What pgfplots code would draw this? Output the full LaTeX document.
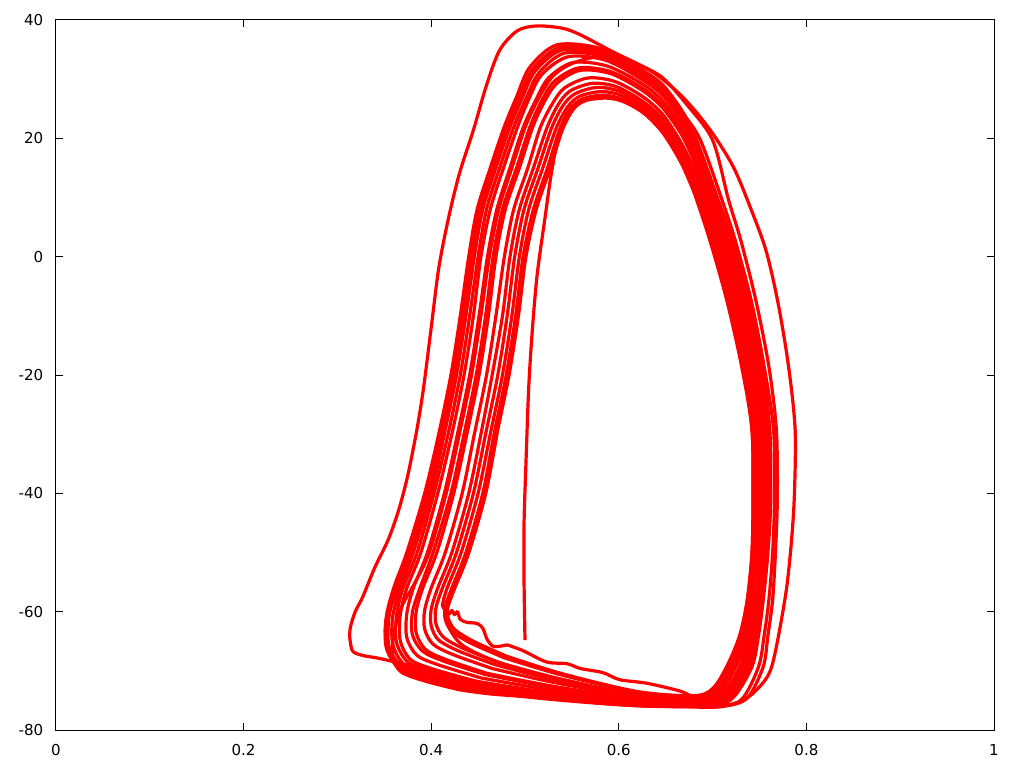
\documentclass[border=0pt]{standalone}
\usepackage{fontspec}
\setmainfont{DejaVu Sans}
\usepackage{pgfplots}
\pgfplotsset{compat=1.18}
\pgfplotsset{traj/.style={color=red, line width=2.4pt, smooth, line join=round, mark=none}}
\begin{document}
\begin{tikzpicture}
\begin{axis}[
  scale only axis, width=703.5pt, height=532.5pt,
  xmin=0, xmax=1, ymin=-80, ymax=40,
  xtick={0,0.2,0.4,0.6,0.8,1}, ytick={-80,-60,-40,-20,0,20,40},
  tick align=inside, major tick length=5.25pt,
  axis line style={line width=0.75pt, black},
  every tick/.style={line width=0.75pt, black},
  /pgf/number format/assume math mode=true,
  tick label style={font=\fontsize{11.3}{13}\selectfont},
  xticklabel style={yshift=-7.5pt},
  yticklabel style={xshift=-6pt},
  clip=true,
]
% start segment
\addplot[traj] coordinates {(0.500,-64.8) (0.499,-55) (0.499,-45) (0.501,-35) (0.504,-22) (0.508,-12) (0.513,-3) (0.521,6.2) (0.528,14) (0.536,20.5) (0.546,24.5) (0.562,26.6) (0.585,27.1) (0.605,26.4) (0.627,24.4) (0.647,21.1) (0.665,16.5) (0.676,12.7) (0.684,9.6) (0.698,2.8) (0.716,-7.3) (0.732,-18.6) (0.742,-29.3) (0.743,-41) (0.742,-50) (0.737,-58) (0.729,-64) (0.716,-69.3) (0.700,-73.3) (0.680,-74.4) (0.620,-74.0) (0.545,-71.8) (0.490,-69.5) (0.455,-67.5) (0.432,-65.5) (0.420,-63) (0.417,-60.5) (0.418,-59) (0.425,-56) (0.440,-50) (0.458,-40) (0.470,-30)};
% f=0.00
\addplot[traj] coordinates {(0.440,-73) (0.390,-71) (0.365,-69.5) (0.352,-66) (0.352,-61) (0.360,-56) (0.374,-50) (0.393,-40) (0.408,-30) (0.421,-20) (0.431,-10) (0.440,0) (0.449,8) (0.463,15) (0.478,22) (0.491,27) (0.505,32) (0.534,35.8) (0.580,35.2) (0.625,31.5) (0.647,29.0) (0.668,24.5) (0.683,19.7) (0.706,9.6) (0.721,2.8) (0.738,-7.3) (0.753,-18.6) (0.761,-29.3) (0.762,-41) (0.759,-50) (0.754,-58) (0.749,-64) (0.742,-69.3) (0.722,-74.5) (0.700,-75.7) (0.620,-75.8) (0.520,-74.5) (0.440,-73)};
% f=0.05
\addplot[traj] coordinates {(0.442,-72.7) (0.393,-70.7) (0.368,-69.2) (0.355,-65.8) (0.355,-60.9) (0.363,-56) (0.377,-50) (0.396,-40) (0.411,-30) (0.424,-20) (0.434,-10) (0.443,0) (0.452,8) (0.466,15) (0.481,22.0) (0.494,26.9) (0.508,31.7) (0.537,35.4) (0.581,34.8) (0.625,31.1) (0.647,28.6) (0.668,24.1) (0.683,19.3) (0.705,9.6) (0.720,2.8) (0.737,-7.3) (0.752,-18.6) (0.760,-29.3) (0.761,-41) (0.758,-50) (0.753,-58) (0.748,-64) (0.741,-69.3) (0.721,-74.4) (0.699,-75.6) (0.620,-75.7) (0.521,-74.3) (0.442,-72.7)};
% f=0.10
\addplot[traj] coordinates {(0.444,-72.5) (0.396,-70.4) (0.371,-68.9) (0.359,-65.5) (0.359,-60.8) (0.367,-56) (0.381,-50) (0.400,-40) (0.414,-30) (0.427,-20) (0.437,-10) (0.446,0) (0.455,8) (0.469,15) (0.484,21.9) (0.497,26.8) (0.511,31.4) (0.539,34.9) (0.583,34.3) (0.625,30.8) (0.647,28.2) (0.668,23.7) (0.682,19.0) (0.704,9.6) (0.719,2.8) (0.736,-7.3) (0.751,-18.6) (0.759,-29.3) (0.760,-41) (0.757,-50) (0.752,-58) (0.747,-64) (0.739,-69.3) (0.720,-74.4) (0.698,-75.6) (0.620,-75.6) (0.522,-74.1) (0.444,-72.5)};
% f=0.16
\addplot[traj] coordinates {(0.446,-72.1) (0.399,-70.0) (0.375,-68.5) (0.363,-65.2) (0.363,-60.7) (0.370,-56) (0.385,-50) (0.403,-40) (0.418,-30) (0.431,-20) (0.441,-10) (0.450,0) (0.459,8) (0.473,15) (0.488,21.9) (0.501,26.7) (0.515,31.1) (0.542,34.4) (0.584,33.8) (0.625,30.3) (0.647,27.7) (0.668,23.2) (0.682,18.5) (0.702,9.6) (0.717,2.8) (0.734,-7.3) (0.749,-18.6) (0.758,-29.3) (0.759,-41) (0.756,-50) (0.751,-58) (0.746,-64) (0.738,-69.3) (0.718,-74.3) (0.697,-75.5) (0.620,-75.4) (0.523,-73.9) (0.446,-72.1)};
% f=0.22
\addplot[traj] coordinates {(0.449,-71.8) (0.402,-69.7) (0.378,-68.1) (0.367,-64.9) (0.367,-60.6) (0.374,-56) (0.389,-50) (0.407,-40) (0.422,-30) (0.435,-20) (0.445,-10) (0.453,0) (0.463,8) (0.477,15) (0.492,21.9) (0.504,26.6) (0.518,30.8) (0.546,33.8) (0.586,33.2) (0.625,29.9) (0.647,27.2) (0.667,22.7) (0.681,18.1) (0.701,9.6) (0.716,2.8) (0.733,-7.3) (0.748,-18.6) (0.757,-29.3) (0.758,-41) (0.755,-50) (0.750,-58) (0.745,-64) (0.736,-69.3) (0.717,-74.2) (0.696,-75.4) (0.620,-75.3) (0.524,-73.6) (0.449,-71.8)};
% f=0.33
\addplot[traj] coordinates {(0.453,-71.2) (0.408,-69.0) (0.385,-67.4) (0.374,-64.4) (0.374,-60.3) (0.381,-56) (0.396,-50) (0.414,-40) (0.428,-30) (0.441,-20) (0.451,-10) (0.460,0) (0.470,8) (0.484,15) (0.498,21.8) (0.511,26.3) (0.525,30.2) (0.551,32.8) (0.588,32.2) (0.626,29.1) (0.647,26.3) (0.667,21.8) (0.681,17.3) (0.698,9.6) (0.713,2.8) (0.730,-7.3) (0.746,-18.6) (0.755,-29.3) (0.756,-41) (0.753,-50) (0.748,-58) (0.742,-64) (0.733,-69.3) (0.715,-74.0) (0.693,-75.2) (0.620,-75.0) (0.527,-73.2) (0.453,-71.2)};
% f=0.43
\addplot[traj] coordinates {(0.457,-70.6) (0.414,-68.4) (0.391,-66.7) (0.380,-63.9) (0.380,-60.1) (0.388,-56) (0.402,-50) (0.421,-40) (0.435,-30) (0.448,-20) (0.458,-10) (0.466,0) (0.476,8) (0.491,15) (0.505,21.8) (0.517,26.1) (0.531,29.6) (0.557,31.9) (0.591,31.3) (0.626,28.4) (0.647,25.5) (0.667,21.0) (0.680,16.6) (0.696,9.6) (0.711,2.8) (0.728,-7.3) (0.744,-18.6) (0.753,-29.3) (0.753,-41) (0.752,-50) (0.747,-58) (0.740,-64) (0.730,-69.3) (0.713,-73.9) (0.691,-75.1) (0.620,-74.8) (0.529,-72.8) (0.457,-70.6)};
% f=0.48
\addplot[traj] coordinates {(0.459,-70.4) (0.416,-68.1) (0.394,-66.4) (0.384,-63.6) (0.384,-60.0) (0.391,-56) (0.406,-50) (0.424,-40) (0.438,-30) (0.451,-20) (0.461,-10) (0.469,0) (0.479,8) (0.494,15) (0.508,21.8) (0.520,26.0) (0.534,29.3) (0.559,31.5) (0.592,30.9) (0.626,28.0) (0.647,25.1) (0.667,20.6) (0.680,16.2) (0.695,9.6) (0.709,2.8) (0.727,-7.3) (0.742,-18.6) (0.752,-29.3) (0.752,-41) (0.751,-50) (0.746,-58) (0.739,-64) (0.729,-69.3) (0.711,-73.8) (0.690,-75.0) (0.620,-74.7) (0.530,-72.6) (0.459,-70.4)};
% f=0.62
\addplot[traj] coordinates {(0.465,-69.6) (0.424,-67.3) (0.402,-65.5) (0.393,-62.9) (0.393,-59.8) (0.400,-56) (0.415,-50) (0.433,-40) (0.446,-30) (0.459,-20) (0.469,-10) (0.478,0) (0.488,8) (0.503,15) (0.516,21.7) (0.529,25.8) (0.542,28.5) (0.567,30.2) (0.596,29.6) (0.626,27.0) (0.647,24.0) (0.666,19.4) (0.679,15.2) (0.692,9.6) (0.706,2.8) (0.724,-7.3) (0.739,-18.6) (0.749,-29.3) (0.750,-41) (0.748,-50) (0.743,-58) (0.737,-64) (0.725,-69.3) (0.708,-73.6) (0.688,-74.8) (0.620,-74.4) (0.532,-72.0) (0.465,-69.6)};
% f=0.72
\addplot[traj] coordinates {(0.469,-69.0) (0.430,-66.7) (0.408,-64.8) (0.400,-62.4) (0.400,-59.6) (0.407,-56) (0.422,-50) (0.440,-40) (0.453,-30) (0.465,-20) (0.476,-10) (0.484,0) (0.494,8) (0.509,15) (0.523,21.6) (0.535,25.6) (0.548,28.0) (0.572,29.3) (0.598,28.7) (0.626,26.2) (0.647,23.2) (0.666,18.6) (0.678,14.5) (0.689,9.6) (0.704,2.8) (0.721,-7.3) (0.737,-18.6) (0.747,-29.3) (0.748,-41) (0.747,-50) (0.742,-58) (0.735,-64) (0.723,-69.3) (0.706,-73.4) (0.686,-74.6) (0.620,-74.1) (0.534,-71.6) (0.469,-69.0)};
% f=0.80
\addplot[traj] coordinates {(0.472,-68.6) (0.434,-66.2) (0.413,-64.3) (0.405,-62.0) (0.405,-59.4) (0.412,-56) (0.427,-50) (0.445,-40) (0.458,-30) (0.471,-20) (0.481,-10) (0.489,0) (0.499,8) (0.514,15) (0.528,21.6) (0.540,25.4) (0.553,27.5) (0.576,28.6) (0.600,28.0) (0.627,25.7) (0.647,22.5) (0.666,17.9) (0.677,13.9) (0.688,9.6) (0.702,2.8) (0.720,-7.3) (0.735,-18.6) (0.746,-29.3) (0.747,-41) (0.745,-50) (0.740,-58) (0.733,-64) (0.720,-69.3) (0.704,-73.3) (0.684,-74.5) (0.620,-74.0) (0.536,-71.3) (0.472,-68.6)};
% f=0.88 with wiggles
\addplot[traj] coordinates {(0.481,-65.6) (0.467,-65.9) (0.460,-64.8) (0.455,-62.8) (0.449,-62.0) (0.438,-61.8) (0.431,-61.3) (0.428,-60.0) (0.425,-60.5) (0.422,-59.8) (0.419,-60.4) (0.416,-59.7) (0.412,-59.0) (0.417,-56) (0.432,-50) (0.450,-40) (0.463,-30) (0.476,-20) (0.486,-10) (0.494,0) (0.504,8) (0.519,15) (0.533,21.6) (0.545,25.2) (0.558,27.1) (0.581,27.9) (0.602,27.3) (0.627,25.1) (0.647,21.9) (0.665,17.3) (0.677,13.4) (0.686,9.6) (0.700,2.8) (0.718,-7.3) (0.734,-18.6) (0.744,-29.3) (0.745,-41) (0.744,-50) (0.739,-58) (0.731,-64) (0.718,-69.3) (0.703,-73.2) (0.682,-74.4) (0.665,-73.4) (0.630,-72.1) (0.601,-71.5) (0.583,-70.3) (0.559,-69.6) (0.545,-68.8) (0.523,-68.5) (0.498,-66.6) (0.481,-65.6)};
% f=0.95
\addplot[traj] coordinates {(0.478,-67.8) (0.442,-65.3) (0.422,-63.3) (0.415,-61.3) (0.415,-59.1) (0.422,-56) (0.437,-50) (0.455,-40) (0.467,-30) (0.480,-20) (0.490,-10) (0.498,0) (0.509,8) (0.524,15) (0.537,21.5) (0.549,25.1) (0.562,26.7) (0.584,27.3) (0.604,26.6) (0.627,24.6) (0.647,21.3) (0.665,16.7) (0.676,12.9) (0.684,9.6) (0.698,2.8) (0.716,-7.3) (0.732,-18.6) (0.743,-29.3) (0.744,-41) (0.743,-50) (0.738,-58) (0.730,-64) (0.716,-69.3) (0.701,-73.1) (0.681,-74.3) (0.620,-73.6) (0.539,-70.7) (0.478,-67.8)};
% f=1.00
\addplot[traj] coordinates {(0.480,-67.5) (0.445,-65) (0.425,-63) (0.418,-61) (0.418,-59) (0.425,-56) (0.440,-50) (0.458,-40) (0.470,-30) (0.483,-20) (0.493,-10) (0.501,0) (0.512,8) (0.527,15) (0.540,21.5) (0.552,25) (0.565,26.4) (0.587,26.8) (0.605,26.2) (0.627,24.2) (0.647,20.9) (0.665,16.3) (0.676,12.5) (0.683,9.6) (0.697,2.8) (0.715,-7.3) (0.731,-18.6) (0.742,-29.3) (0.743,-41) (0.742,-50) (0.737,-58) (0.729,-64) (0.715,-69.3) (0.700,-73) (0.680,-74.2) (0.620,-73.5) (0.540,-70.5) (0.480,-67.5)};
% loop reaching the outermost right arc
\addplot[traj] coordinates {(0.430,-73.2) (0.395,-71.8) (0.368,-70.2) (0.359,-67.5) (0.361,-63) (0.369,-59) (0.383,-55) (0.398,-50) (0.416,-40) (0.430,-30) (0.443,-20) (0.453,-10) (0.462,0) (0.472,8) (0.486,15) (0.500,21.8) (0.513,26.3) (0.527,30.0) (0.540,31.8) (0.556,33.0) (0.578,33.8) (0.598,33.7) (0.635,31.3) (0.668,27.0) (0.697,21.5) (0.722,15.2) (0.741,8) (0.757,1) (0.770,-8) (0.781,-18.6) (0.788,-29.3) (0.787,-41) (0.783,-50) (0.777,-58) (0.763,-69.3) (0.747,-73.2) (0.729,-75.2) (0.700,-76.0) (0.620,-75.9) (0.520,-74.6) (0.463,-73.9) (0.430,-73.2)};
% loop to the outer pair on the right
\addplot[traj] coordinates {(0.440,-73.1) (0.390,-71.1) (0.366,-69.5) (0.353,-66.2) (0.352,-61.5) (0.365,-56) (0.379,-50) (0.398,-40) (0.413,-30) (0.426,-20) (0.436,-10) (0.445,0) (0.454,8) (0.468,15) (0.483,22.0) (0.496,26.8) (0.510,31.6) (0.538,35.1) (0.582,34.5) (0.625,31.0) (0.647,28.5) (0.667,24.5) (0.687,19.7) (0.710,9.6) (0.724,2.8) (0.741,-7.3) (0.755,-18.6) (0.765,-29.3) (0.766,-41) (0.764,-50) (0.760,-58) (0.755,-64) (0.749,-69.3) (0.731,-74.8) (0.705,-75.9) (0.620,-75.9) (0.520,-74.7) (0.440,-73.1)};
% outermost left loop
\addplot[traj] coordinates {(0.313,-64) (0.314,-62.5) (0.319,-60) (0.327,-57.5) (0.340,-52.5) (0.354,-47.9) (0.365,-43) (0.375,-37) (0.385,-29) (0.392,-22) (0.400,-12) (0.408,-2) (0.418,6.2) (0.430,14) (0.445,21.4) (0.459,29) (0.473,34.9) (0.492,38.2) (0.513,39.0) (0.540,38.6) (0.559,37.5) (0.594,34.6) (0.625,32.2) (0.647,30.2) (0.672,25.8) (0.700,19.7) (0.717,9.6) (0.730,2.8) (0.746,-7.3) (0.760,-18.6) (0.768,-29.3) (0.769,-41) (0.767,-50) (0.764,-58) (0.759,-64) (0.754,-69.3) (0.737,-74.6) (0.712,-76.0) (0.680,-76.1) (0.620,-75.3) (0.520,-73.8) (0.440,-71.5) (0.380,-69.2) (0.345,-67.9) (0.327,-67.4) (0.316,-66.6) (0.313,-64)};
\end{axis}
\pgfresetboundingbox
\path ([xshift=-42pt,yshift=-28.5pt]current axis.south west) rectangle ([xshift=22.5pt,yshift=15pt]current axis.north east);
\end{tikzpicture}
\end{document}
